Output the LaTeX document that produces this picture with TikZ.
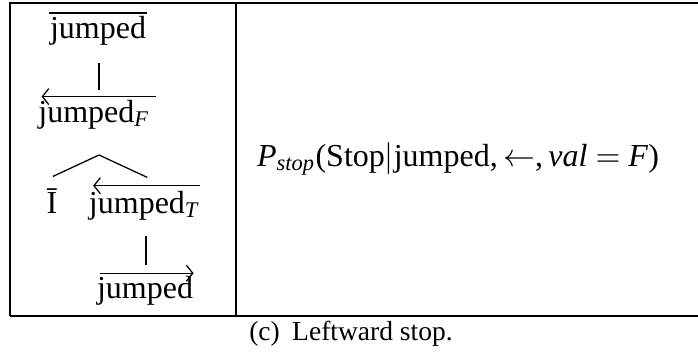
\documentclass[tikz,border=0pt]{standalone}
\usepackage{amsmath}
\usepackage{fontspec}
\setmainfont{Liberation Serif}
\usetikzlibrary{arrows.meta}

\begin{document}
\begin{tikzpicture}[x=0.3125pt, y=-0.3125pt,
    word/.style={inner sep=0pt, anchor=base},
    branch/.style={line width=0.4pt},
    dirleft/.style={line width=0.4pt, {Straight Barb[length=2pt,width=5pt]}-},
    dirright/.style={line width=0.4pt, -{Straight Barb[length=2pt,width=5pt]}}]

  \useasboundingbox (0,0) rectangle (698,351);

  % table frame
  \draw[line width=0.4pt] (10,316) -- (10,3) -- (698,3);
  \draw[line width=0.4pt] (10,316) -- (698,316);
  \draw[line width=0.4pt] (236,3) -- (236,316);

  % dependency tree (left cell)
  \node[word] (top) at (98,38) {jumped};
  \draw[line width=0.4pt] ([yshift=0.7pt]top.north west) -- ([yshift=0.7pt]top.north east);

  \node[word] (jF) at (94,122) {jumped$_{\textit{F}}$};
  \draw[dirleft] ([xshift=1.2pt,yshift=0.8pt]jF.north west) -- ([xshift=1.9pt,yshift=0.8pt]jF.north east);
  \draw[branch] ([yshift=-5.6pt]top.south -| 99,0) -- (99,90);

  \coordinate (fork) at (99,155);
  \node[word] (Ibar) at (52,213) {Ī};
  \node[word] (jT) at (144,213) {jumped$_{\textit{T}}$};
  \draw[dirleft] ([xshift=1.5pt,yshift=1.4pt]jT.north west) -- ([yshift=1.4pt]jT.north east);
  \draw[branch] (fork) -- ([xshift=0.3pt,yshift=3.5pt]Ibar.north);
  \draw[branch] (fork) -- ([xshift=1pt,yshift=4pt]jT.north);

  \node[word] (jR) at (145,298) {jumped};
  \draw[dirright] ([xshift=1pt,yshift=0.6pt]jR.north west) -- ([yshift=0.6pt]jR.north east);
  \draw[branch] ([yshift=-4.8pt]jT.south -| 146,0) -- (146,265);

  % probability (right cell)
  \node[word] (prob) at (458,166)
    {\textit{P}$_{\textit{stop}}$(Stop$|$jumped,\,$\leftarrow$,\,\textit{val} $=$ \textit{F})};

  % caption
  \node[word, font=\fontsize{8.6}{10}\selectfont] (cap) at (351,340) {(c)\hspace{0.45em}Leftward stop.};
\end{tikzpicture}
\end{document}
